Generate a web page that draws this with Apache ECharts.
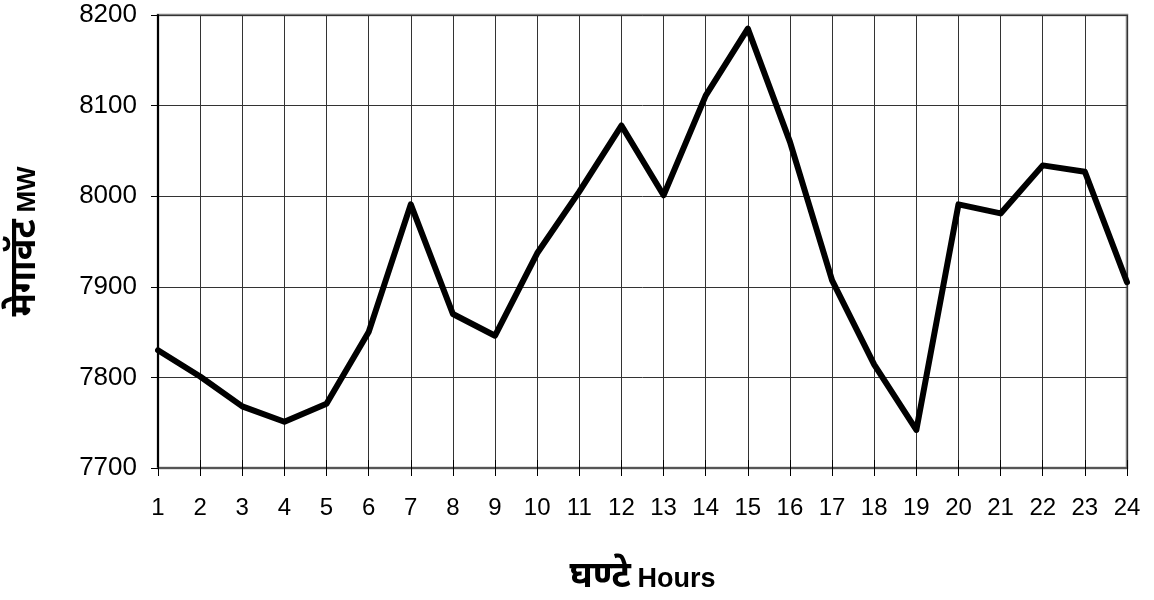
<!DOCTYPE html>
<html>
<head>
<meta charset="utf-8">
<script src="https://cdn.jsdelivr.net/npm/echarts@6/dist/echarts.min.js"></script>
<style>
html,body{margin:0;padding:0;background:#fff;}
#chart{width:1154px;height:600px;}
</style>
</head>
<body>
<div id="chart"></div>
<script>
const hours = ['1','2','3','4','5','6','7','8','9','10','11','12','13','14','15','16','17','18','19','20','21','22','23','24'];
const megawatts = [7830,7801,7768,7751,7771,7850,7991,7870,7846,7937,8005,8078,8001,8111,8185,8060,7907,7814,7742,7991,7981,8034,8027,7905];
const yMin = 7700, yMax = 8200, yStep = 100;

const latin = 'Liberation Sans, Arial, sans-serif';
const devFont = "'Noto Sans Devanagari','Lohit Devanagari','Mangal','FreeSans','Noto Sans','DejaVu Sans',sans-serif";
const chart = echarts.init(document.getElementById('chart'));
chart.setOption({
  animation: false,
  backgroundColor: '#fff',
  grid: {left: 158, right: 27, top: 15, bottom: 132, containLabel: false, outerBoundsMode: 'none',
         show: true, borderColor: '#808080', borderWidth: 2.5, backgroundColor: 'transparent'},
  xAxis: [{
    type: 'category', data: hours, boundaryGap: false,
    axisLine: {show: true, lineStyle: {color: '#555', width: 2}},
    axisTick: {show: true, length: 8, lineStyle: {color: '#000', width: 1}},
    axisLabel: {color: '#000', fontFamily: latin, fontSize: 24, margin: 28},
    splitLine: {show: true, lineStyle: {color: '#333', width: 1}},
    name: '{dev|घण्टे}  {en|Hours}', nameLocation: 'middle', nameGap: 94,
    nameTextStyle: {rich: {
      dev: {fontFamily: devFont, fontSize: 36, fontWeight: 'bold', color: '#000'},
      en: {fontFamily: latin, fontSize: 27, fontWeight: 'bold', color: '#000'}
    }}
  },{
    type: 'category', data: hours, boundaryGap: false, position: 'bottom',
    axisLine: {show: false},
    axisTick: {show: true, inside: true, length: 8, lineStyle: {color: '#000', width: 1}},
    axisLabel: {show: false}, splitLine: {show: false}
  }],
  yAxis: {
    type: 'value', min: yMin, max: yMax, interval: yStep,
    axisLine: {show: true, lineStyle: {color: '#000', width: 2}},
    axisTick: {show: true, length: 7, lineStyle: {color: '#000', width: 1}},
    axisLabel: {color: '#000', fontFamily: latin, fontSize: 26, margin: 21, formatter: v => String(v)},
    splitLine: {show: true, lineStyle: {color: '#333', width: 1}},
    name: '{dev|मेगावॅट}  {en|MW}', nameLocation: 'middle', nameGap: 112, nameRotate: 90,
    nameTextStyle: {rich: {
      dev: {fontFamily: devFont, fontSize: 36, fontWeight: 'bold', color: '#000'},
      en: {fontFamily: latin, fontSize: 26, fontWeight: 'bold', color: '#000'}
    }}
  },
  series: [{
    type: 'line', data: megawatts, xAxisIndex: 0,
    symbol: 'none', lineStyle: {color: '#000', width: 6, join: 'round', cap: 'round'},
    z: 5
  }]
});
</script>
</body>
</html>
